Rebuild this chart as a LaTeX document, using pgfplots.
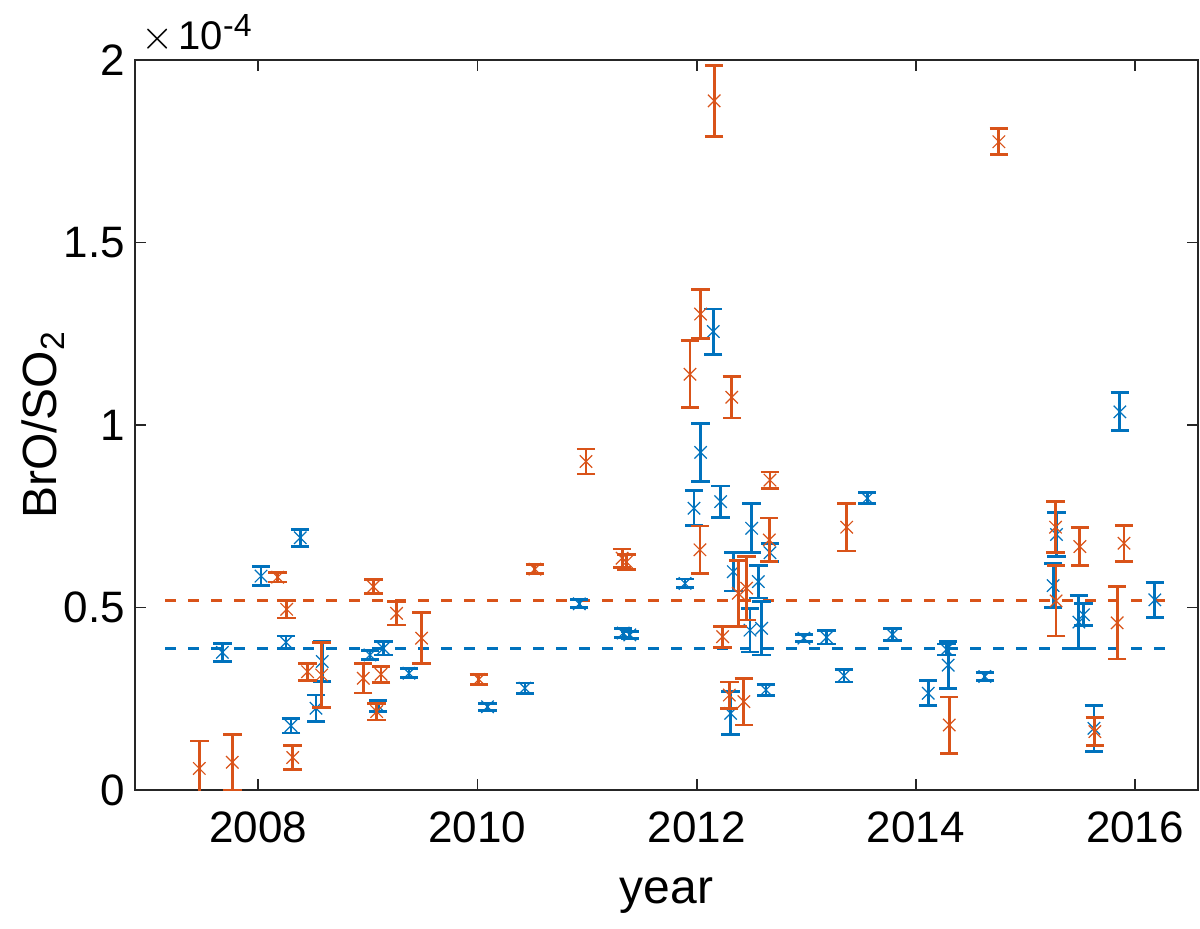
\documentclass[border=0pt]{standalone}
\usepackage{fontspec}
\setmainfont{Liberation Sans}
\usepackage{pgfplots}
\pgfplotsset{compat=1.18}
\definecolor{mblue}{rgb}{0,0.447,0.741}
\definecolor{morange}{rgb}{0.85,0.325,0.098}
\definecolor{axgray}{rgb}{0.15,0.15,0.15}
\begin{document}
\begin{tikzpicture}
\begin{axis}[
 scale only axis, width=531.5pt, height=365pt,
 clip mode=individual,
 xmin=2006.875, xmax=2016.575, ymin=0, ymax=2,
 xtick={2008,2010,...,2016}, ytick={0,0.5,1,1.5,2},
 x tick label style={/pgf/number format/1000 sep={}},
 /pgf/number format/assume math mode=true,
 tick align=inside, major tick length=5.5pt,
 axis line style={axgray, line width=0.9pt},
 every tick/.style={axgray, line width=0.9pt},
 ticklabel style={font=\fontsize{22}{26}\selectfont, text=black},
 xticklabel style={yshift=-7.5pt},
 yticklabel style={xshift=-1.5pt},
 xlabel={year}, ylabel={BrO/SO\textsubscript{2}},
 every axis x label/.style={at={(axis description cs:0.5,0)}, anchor=base, yshift=-56.5pt, font=\fontsize{24}{28}\selectfont},
 every axis y label/.style={at={(axis description cs:0,0.5)}, xshift=-39pt, rotate=90, anchor=base, font=\fontsize{24}{28}\selectfont},
]
\addplot[morange, line width=1.3pt, dash pattern=on 5.5pt off 6pt] coordinates {(2007.149,0.519) (2016.28,0.519)};
\addplot[mblue, line width=1.3pt, dash pattern=on 5.5pt off 6pt] coordinates {(2007.149,0.388) (2016.28,0.388)};
\addplot[only marks, mark=x, mark size=4.4pt, mblue, mark options={line width=0.6pt},
 error bars/.cd, y dir=both, y explicit, error bar style={line width=1.4pt, mblue},
 error mark options={mblue, line width=1.4pt, mark size=4.6pt, rotate=90}]
 table[x=x, y=y, y error=e] {
x y e
2007.672 0.377 0.025
2008.025 0.586 0.026
2008.253 0.405 0.017
2008.298 0.176 0.020
2008.383 0.691 0.023
2008.527 0.224 0.036
2008.584 0.352 0.054
2009.019 0.370 0.012
2009.095 0.230 0.016
2009.141 0.388 0.018
2009.375 0.320 0.012
2010.092 0.228 0.010
2010.433 0.279 0.014
2010.929 0.510 0.011
2011.330 0.430 0.012
2011.390 0.425 0.010
2011.894 0.566 0.012
2011.976 0.772 0.048
2012.036 0.925 0.080
2012.152 1.256 0.062
2012.219 0.790 0.043
2012.310 0.210 0.059
2012.335 0.598 0.053
2012.487 0.438 0.060
2012.502 0.717 0.067
2012.563 0.571 0.045
2012.593 0.443 0.073
2012.632 0.274 0.016
2012.669 0.650 0.025
2012.979 0.416 0.010
2013.186 0.418 0.018
2013.344 0.313 0.017
2013.557 0.799 0.015
2013.788 0.426 0.017
2014.113 0.265 0.034
2014.280 0.385 0.015
2014.295 0.342 0.064
2014.630 0.311 0.010
2015.253 0.560 0.060
2015.284 0.700 0.060
2015.488 0.460 0.072
2015.530 0.480 0.030
2015.625 0.169 0.063
2015.862 1.036 0.052
2016.181 0.521 0.048
};
\addplot[only marks, mark=x, mark size=4.4pt, morange, mark options={line width=0.6pt},
 error bars/.cd, y dir=both, y explicit, error bar style={line width=1.4pt, morange},
 error mark options={morange, line width=1.4pt, mark size=4.6pt, rotate=90}]
 table[x=x, y=y, y error=e] {
x y e
2007.462 0.059 0.075
2007.763 0.076 0.077
2008.177 0.583 0.013
2008.259 0.495 0.024
2008.314 0.089 0.033
2008.450 0.324 0.023
2008.578 0.315 0.090
2008.958 0.306 0.040
2009.050 0.557 0.019
2009.080 0.215 0.023
2009.120 0.317 0.022
2009.262 0.484 0.032
2009.490 0.416 0.070
2010.013 0.303 0.013
2010.524 0.605 0.012
2010.990 0.900 0.034
2011.320 0.635 0.025
2011.360 0.625 0.020
2011.939 1.139 0.092
2012.030 0.658 0.065
2012.036 1.304 0.068
2012.160 1.888 0.097
2012.237 0.420 0.029
2012.298 0.260 0.036
2012.320 1.076 0.057
2012.380 0.539 0.090
2012.431 0.242 0.064
2012.456 0.553 0.087
2012.663 0.685 0.060
2012.669 0.849 0.022
2013.369 0.720 0.065
2014.305 0.178 0.077
2014.758 1.776 0.036
2015.275 0.720 0.070
2015.280 0.518 0.096
2015.497 0.667 0.053
2015.634 0.160 0.038
2015.837 0.458 0.099
2015.900 0.676 0.049
};
\coordinate (TL) at (axis description cs:0,1);
\coordinate (BL) at (axis description cs:-0.12700,-0.18904);
\coordinate (TR) at (axis description cs:1.00188,1.08219);
\end{axis}
\node[anchor=base west, inner sep=0pt, xshift=3pt, yshift=5pt, font=\fontsize{20}{24}\selectfont] at (TL) {$\times$\hspace{2.5pt}10\raisebox{6.5pt}{\fontsize{16}{18}\selectfont -4}};
\pgfresetboundingbox
\path (BL) rectangle (TR);
\end{tikzpicture}
\end{document}
